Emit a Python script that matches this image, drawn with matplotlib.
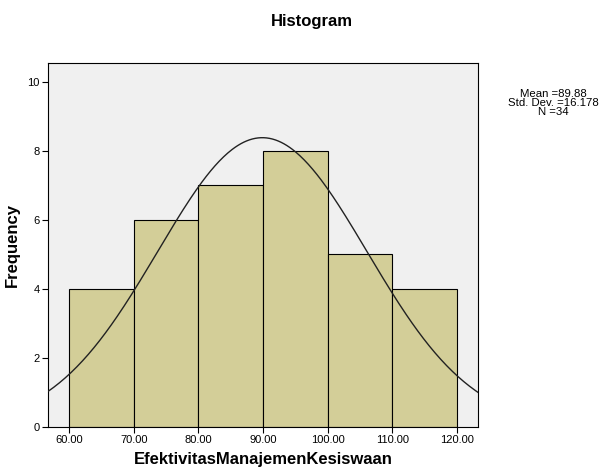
import numpy as np
import matplotlib
matplotlib.use("Agg")
import matplotlib.pyplot as plt

# -----------------------------
# Histogram data (read from the SPSS output)
bin_edges = [60, 70, 80, 90, 100, 110, 120]
counts = [4, 6, 7, 8, 5, 4]
mean = 89.88
std_dev = 16.178
n = 34
x_ticks = [60, 70, 80, 90, 100, 110, 120]
y_ticks = [0, 2, 4, 6, 8, 10]

plt.rcParams['font.family'] = ['Liberation Sans', 'DejaVu Sans']

fig = plt.figure(figsize=(6, 4.73), dpi=100)
ax = fig.add_axes([0.08, 0.0973, 0.717, 0.7696])
ax.set_facecolor('#f0f0f0')

# bars
widths = np.diff(bin_edges)
ax.bar(bin_edges[:-1], counts, width=widths, align='edge',
       color='#d3ce98', edgecolor='black', linewidth=0.8, zorder=2)

# normal curve scaled to the counts
xs = np.linspace(56.75, 123.25, 300)
bw = widths[0]
ys = n * bw / (std_dev * np.sqrt(2 * np.pi)) * np.exp(-0.5 * ((xs - mean) / std_dev) ** 2)
ax.plot(xs, ys, color='#222222', linewidth=1.0, zorder=3)

ax.set_xlim(56.75, 123.25)
ax.set_ylim(0, 10.55)
ax.set_xticks(x_ticks)
ax.set_xticklabels([f"{v:.2f}" for v in x_ticks], fontsize=8)
ax.set_yticks(y_ticks)
ax.set_yticklabels([str(v) for v in y_ticks], fontsize=8)
ax.tick_params(direction='out', length=4, width=0.8, pad=2)
for s in ax.spines.values():
    s.set_linewidth(0.8)

ax.set_xlabel('EfektivitasManajemenKesiswaan', fontsize=12, fontweight='bold', labelpad=5)
ax.set_ylabel('Frequency', fontsize=12, fontweight='bold', labelpad=5)
fig.text(0.52, 0.955, 'Histogram', ha='center', va='center', fontsize=12, fontweight='bold')

fig.text(0.922, 0.782, f"Mean ={mean}\nStd. Dev. ={std_dev}\nN ={n}",
         ha='center', va='center', fontsize=8.2, linespacing=0.85)

fig.savefig('out.png', dpi=100)
